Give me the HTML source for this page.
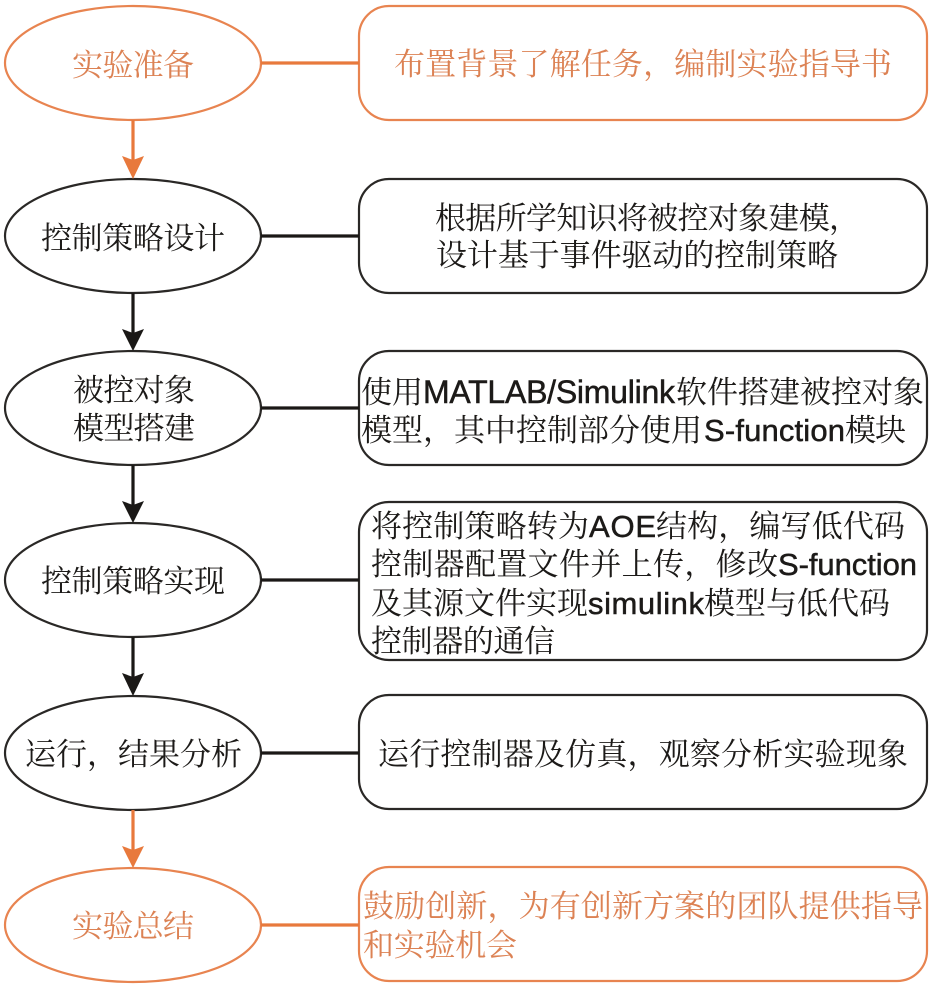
<!DOCTYPE html>
<html lang="zh"><head><meta charset="utf-8"><style>
html,body{margin:0;padding:0;background:#fff;width:933px;height:988px;overflow:hidden}
svg{display:block}
text{font-family:"Liberation Sans","Noto Serif CJK SC",serif;font-size:31px}
.k{fill:#1c1a18}
.o{fill:#dc8254}
.l{stroke:#1c1a18;stroke-width:.5px}
</style></head><body>
<svg width="933" height="988" viewBox="0 0 933 988" xmlns="http://www.w3.org/2000/svg">
<g fill="none" stroke-width="2.2">
<g stroke="#e88450">
<ellipse cx="133" cy="63" rx="128" ry="57"/>
<rect x="359" y="6" width="568" height="114" rx="30"/>
<ellipse cx="133" cy="925" rx="128" ry="57"/>
<rect x="359" y="867" width="568" height="114" rx="30"/>
</g>
<g stroke="#2a2826">
<ellipse cx="133" cy="236" rx="128" ry="57"/>
<rect x="359" y="179" width="568" height="114" rx="30"/>
<ellipse cx="133" cy="408" rx="128" ry="57"/>
<rect x="359" y="351" width="568" height="114" rx="30"/>
<ellipse cx="133" cy="580" rx="128" ry="57"/>
<rect x="359" y="502" width="568" height="158" rx="30"/>
<ellipse cx="133" cy="753" rx="128" ry="57"/>
<rect x="359" y="695" width="568" height="114" rx="30"/>
</g>
</g>
<g stroke-width="3.2" fill="none">
<g stroke="#e8793c">
<path d="M261 63H359M261 925H359M133 120V160M133 810V850"/>
</g>
<g stroke="#1a1816">
<path d="M261 236H359M261 408H359M261 580H359M261 753H359M133 293V333M133 465V505M133 637V677"/>
</g>
</g>
<g fill="#e8793c">
<path d="M122 156L133 160L144 156L133 179Z"/>
<path d="M122 846L133 850L144 846L133 868Z"/>
</g>
<g fill="#1a1816">
<path d="M122 329L133 333L144 329L133 351Z"/>
<path d="M122 501L133 505L144 501L133 523Z"/>
<path d="M122 673L133 677L144 673L133 696Z"/>
</g>
<text class="o" x="72" y="76" textLength="122">实验准备</text>
<text class="o" x="394" y="75" textLength="498">布置背景了解任务，编制实验指导书</text>
<text class="o" x="72" y="937" textLength="122">实验总结</text>
<text class="o" x="363" y="917" textLength="560">鼓励创新，为有创新方案的团队提供指导</text>
<text class="o" x="363" y="956" textLength="154">和实验机会</text>
<text class="k" x="41" y="249" textLength="184">控制策略设计</text>
<text class="k" x="73" y="401" textLength="122">被控对象</text>
<text class="k" x="73" y="439" textLength="122">模型搭建</text>
<text class="k" x="41" y="592" textLength="184">控制策略实现</text>
<text class="k" x="25" y="765" textLength="217">运行，结果分析</text>
<text class="k" x="435" y="229" textLength="425">根据所学知识将被控对象建模，</text>
<text class="k" x="436" y="266" textLength="402">设计基于事件驱动的控制策略</text>

<text class="k" x="361" y="403" textLength="62">使用</text>
<text class="k l" x="423" y="403" textLength="252" style="font-size:32px">MATLAB/Simulink</text>
<text class="k" x="676" y="403" textLength="248">软件搭建被控对象</text>

<text class="k" x="361" y="441" textLength="341">模型，其中控制部分使用</text>
<text class="k l" x="704" y="441" textLength="141">S-function</text>
<text class="k" x="845" y="441" textLength="61">模块</text>

<text class="k" x="371" y="537" textLength="218">将控制策略转为</text>
<text class="k l" x="589" y="537" textLength="67">AOE</text>
<text class="k" x="656" y="537" textLength="249">结构，编写低代码</text>

<text class="k" x="371" y="575" textLength="407">控制器配置文件并上传，修改</text>
<text class="k l" x="778" y="575" textLength="139">S-function</text>

<text class="k" x="371" y="614" textLength="217">及其源文件实现</text>
<text class="k l" x="588" y="614" textLength="116">simulink</text>
<text class="k" x="704" y="614" textLength="186">模型与低代码</text>

<text class="k" x="371" y="652" textLength="184">控制器的通信</text>
<text class="k" x="378" y="765" textLength="530">运行控制器及仿真，观察分析实验现象</text>
</svg>
</body></html>
